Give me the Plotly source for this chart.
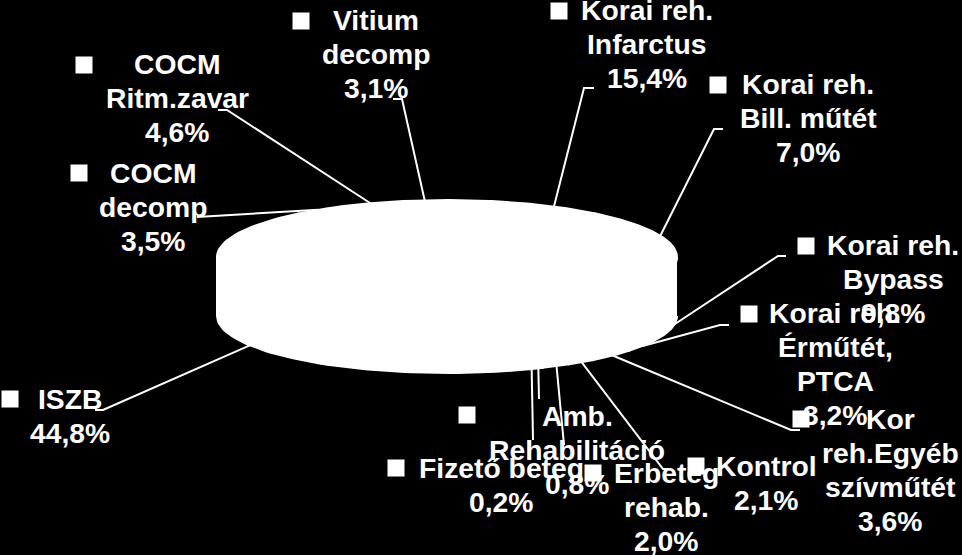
import numpy as np
import plotly.graph_objects as go

# ── Data ──────────────────────────────────────────────────────────────────────
labels = [
    "ISZB", "COCM\ndecomp", "COCM\nRitm.zavar", "Vitium\ndecomp",
    "Korai reh.\nInfarctus", "Korai reh.\nBill. műtét", "Korai reh.\nBypass",
    "Korai reh.\nÉrműtét,\nPTCA", "Kor\nreh.Egyéb\nszívműtét", "Kontrol",
    "Erbeteg\nrehab.", "Amb.\nRehabilitáció", "Fizető beteg",
]
values = [44.8, 3.5, 4.6, 3.1, 15.4, 7.0, 9.8, 3.2, 3.6, 2.1, 2.0, 0.8, 0.2]
value_text = ["44,8%", "3,5%", "4,6%", "3,1%", "15,4%", "7,0%", "9,8%",
              "3,2%", "3,6%", "2,1%", "2,0%", "0,8%", "0,2%"]

# ── Layout of the picture (pixels) ────────────────────────────────────────────
W, H = 962, 555
CX, A, B = 447, 230, 57
TOP_Y, BOTTOM_Y = 257, 316
FIRST_ANGLE = 158.4   # clockwise from 12 o'clock
FONT_SIZE = 28.3
LINE_PITCH = 34
WHITE = "#FFFFFF"

text_x = [70, 153, 177, 376, 647, 808, 893, 835, 890, 766, 666, 577, 501]
text_y = [399, 173, 64, 20, 10, 84, 245, 313, 419, 466, 473, 416, 468]
key_x = [10, 79, 84, 301, 559, 718, 806, 749, 801, 696, 593, 467, 396]
key_y = [399, 173, 65, 21, 11, 85, 246, 314, 419, 466, 473, 415, 468]
# elbow and stub end of each leader line
elbow_x = [103, 203, 227, 402, 584, 714, 778, 720, 791, 663, 564, 539, 533]
elbow_y = [410, 217, 110, 99, 88, 129, 256, 325, 430, 469, 445, 399, 440]
stub_x = [95, 197, 218, 393, 594, 723, 786, 729, 800, 669, 564, 539, 533]


def rim(deg, front_y=BOTTOM_Y):
    t = np.radians(deg)
    cy = np.where(np.cos(t) < 0, front_y, TOP_Y)
    return CX + A * np.sin(t), cy - B * np.cos(t)


fig = go.Figure()

starts = FIRST_ANGLE + np.concatenate([[0], np.cumsum(values)[:-1]]) * 3.6
ends = starts + np.array(values) * 3.6

# side wall, then top face
for s, e in zip(starts, ends):
    for lo, hi in [(s, e), (s - 360, e - 360)]:
        lo2, hi2 = max(lo, 90), min(hi, 270)
        if hi2 <= lo2:
            continue
        t = np.radians(np.linspace(lo2, hi2, 60))
        xs = CX + A * np.sin(t)
        y_top = TOP_Y - B * np.cos(t)
        y_bot = BOTTOM_Y - B * np.cos(t)
        fig.add_trace(go.Scatter(
            x=np.r_[xs, xs[::-1]], y=np.r_[y_top, y_bot[::-1]],
            mode="lines", fill="toself", fillcolor=WHITE,
            line=dict(color=WHITE, width=2), hoverinfo="skip", showlegend=False,
        ))

for s, e, name, val in zip(starts, ends, labels, value_text):
    t = np.radians(np.linspace(s, e, 80))
    fig.add_trace(go.Scatter(
        x=np.r_[CX, CX + A * np.sin(t), CX],
        y=np.r_[TOP_Y, TOP_Y - B * np.cos(t), TOP_Y],
        mode="lines", fill="toself", fillcolor=WHITE,
        line=dict(color=WHITE, width=2),
        name=name.replace("\n", " "), text=val, hoverinfo="name+text", showlegend=False,
    ))

# leader lines
for s, e, ex, ey, sx in zip(starts, ends, elbow_x, elbow_y, stub_x):
    x0, y0 = rim((s + e) / 2)
    fig.add_trace(go.Scatter(
        x=[float(x0), ex, sx], y=[float(y0), ey, ey],
        mode="lines", line=dict(color=WHITE, width=2),
        hoverinfo="skip", showlegend=False,
    ))

# legend keys
fig.add_trace(go.Scatter(
    x=key_x, y=key_y, mode="markers",
    marker=dict(symbol="square", size=17, color=WHITE, line=dict(width=0)),
    hoverinfo="skip", showlegend=False,
))

# labels: one annotation per line, the spacing is tighter than plotly's <br>
for name, val, tx, ty in zip(labels, value_text, text_x, text_y):
    for i, line in enumerate(name.split("\n") + [val]):
        fig.add_annotation(
            x=tx, y=ty + i * LINE_PITCH, text=line, showarrow=False,
            xanchor="center", yanchor="middle",
            font=dict(family="Liberation Sans", size=FONT_SIZE, color=WHITE, weight=700),
        )

fig.update_layout(
    width=W, height=H,
    margin=dict(l=0, r=0, t=0, b=0),
    paper_bgcolor="#000000", plot_bgcolor="#000000",
    showlegend=False,
)
fig.update_xaxes(range=[0, W], visible=False)
fig.update_yaxes(range=[H, 0], visible=False)

fig.write_html(
    "out.html",
    config={"displayModeBar": False},
    post_script="document.body.style.margin='0';document.body.style.background='#000';",
)
